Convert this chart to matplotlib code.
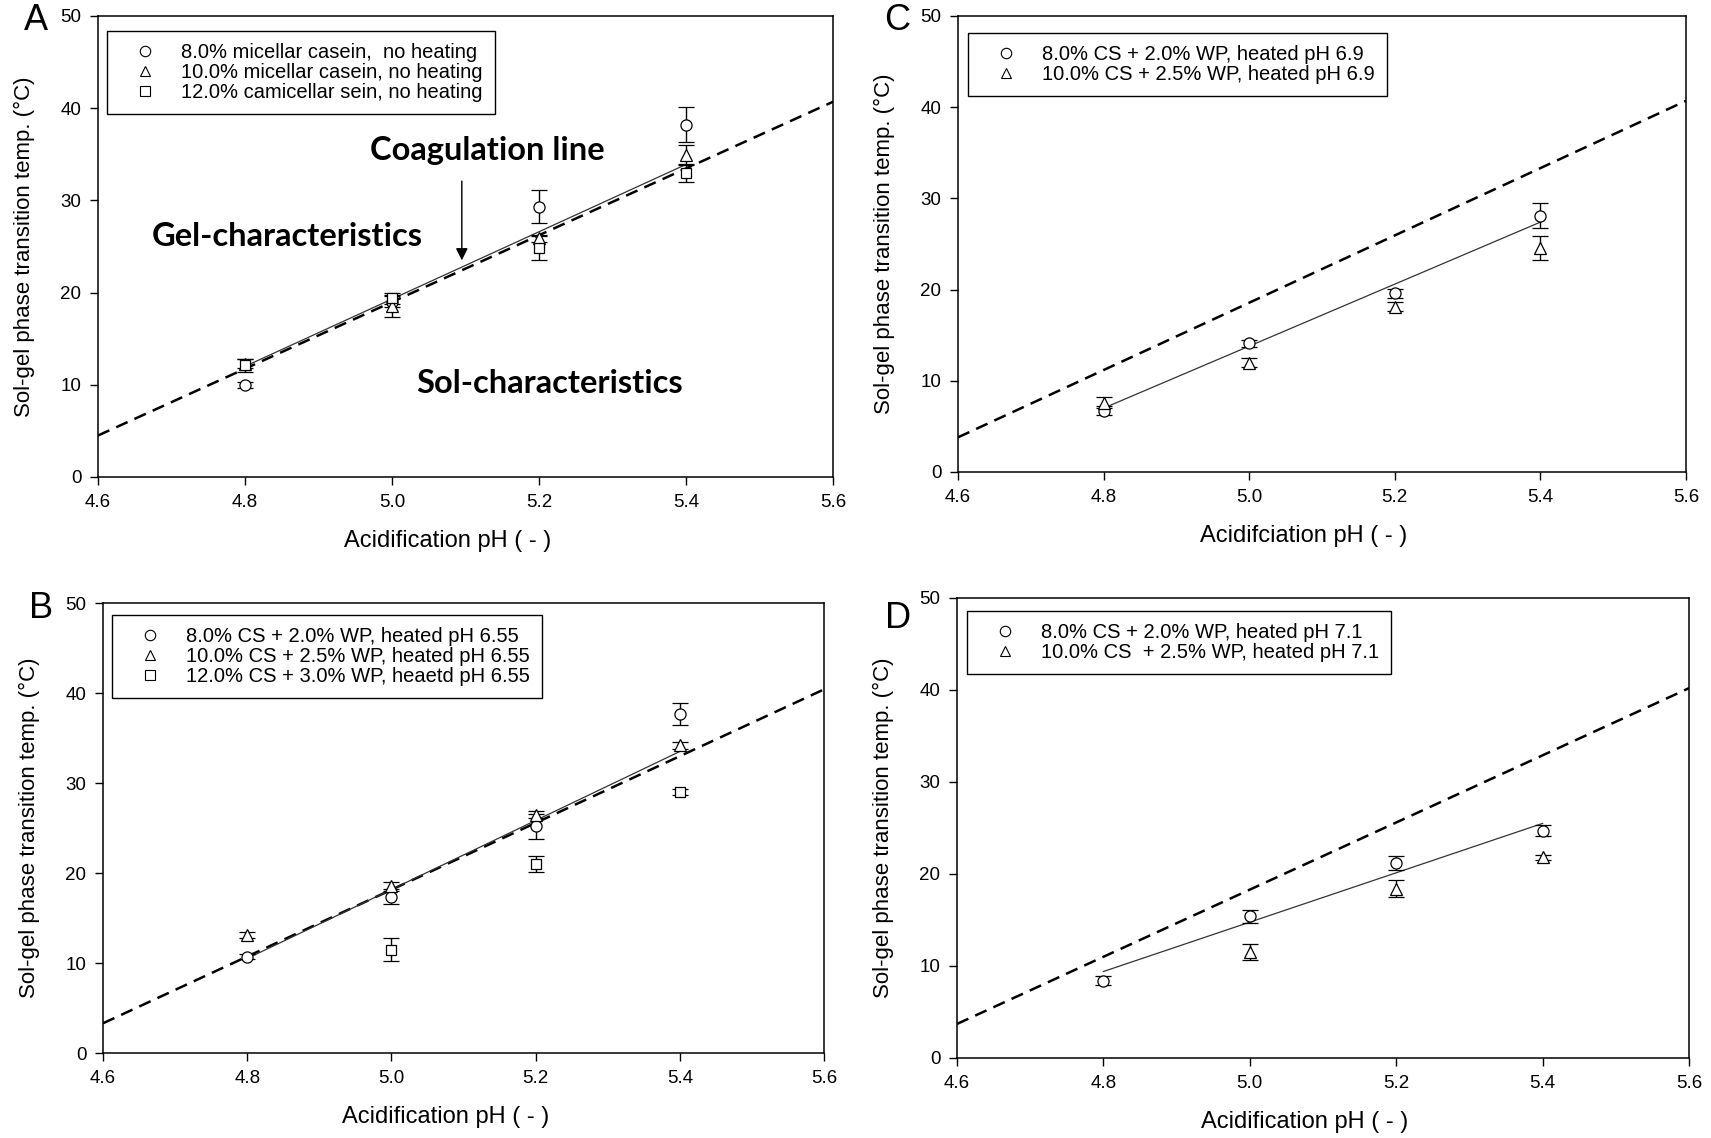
import numpy as np
import matplotlib
matplotlib.use("Agg")
import matplotlib.pyplot as plt
from matplotlib.lines import Line2D

plt.rcParams['font.family'] = ['Liberation Sans', 'DejaVu Sans']

# acidification pH of the measured points
ph = [4.8, 5.0, 5.2, 5.4]

# panel A: micellar casein, no heating
a_labels = ["8.0% micellar casein,  no heating",
            "10.0% micellar casein, no heating",
            "12.0% camicellar sein, no heating"]
a_circ = [10.0, 19.0, 29.3, 38.2]
a_circ_err = [0.3, 0.6, 1.8, 1.9]
a_tri = [12.3, 18.5, 25.9, 34.9]
a_tri_err = [0.5, 1.2, 0.4, 1.1]
a_sq = [12.1, 19.4, 24.8, 33.0]
a_sq_err = [0.7, 0.6, 1.3, 1.0]
a_fit = [12.0, 33.9]
a_coag = [4.5, 40.7]

# panel B: heated pH 6.55
b_labels = ["8.0% CS + 2.0% WP, heated pH 6.55",
            "10.0% CS + 2.5% WP, heated pH 6.55",
            "12.0% CS + 3.0% WP, heaetd pH 6.55"]
b_circ = [10.7, 17.3, 25.2, 37.7]
b_circ_err = [0.3, 0.7, 1.4, 1.2]
b_tri = [13.1, 18.6, 26.5, 34.2]
b_tri_err = [0.3, 0.4, 0.4, 0.4]
b_sq = [np.nan, 11.5, 21.0, 29.0]
b_sq_err = [np.nan, 1.25, 0.9, 0.3]
b_fit = [10.5, 33.5]
b_coag = [3.3, 40.4]

# panel C: heated pH 6.9
c_labels = ["8.0% CS + 2.0% WP, heated pH 6.9",
            "10.0% CS + 2.5% WP, heated pH 6.9"]
c_circ = [6.7, 14.1, 19.6, 28.1]
c_circ_err = [0.5, 0.4, 0.5, 1.4]
c_tri = [7.6, 12.0, 18.1, 24.6]
c_tri_err = [0.6, 0.5, 0.5, 1.3]
c_fit = [7.0, 27.4]
c_coag = [3.8, 40.7]

# panel D: heated pH 7.1
d_labels = ["8.0% CS + 2.0% WP, heated pH 7.1",
            "10.0% CS  + 2.5% WP, heated pH 7.1"]
d_circ = [8.4, 15.4, 21.2, 24.7]
d_circ_err = [0.5, 0.7, 0.8, 0.6]
d_tri = [np.nan, 11.5, 18.4, 21.8]
d_tri_err = [np.nan, 0.9, 0.9, 0.3]
d_fit = [9.4, 25.5]
d_coag = [3.7, 40.2]

fit_ph = [4.8, 5.4]
coag_ph = [4.6, 5.6]

W, H = 1711, 1138
fig = plt.figure(figsize=(W / 100, H / 100), dpi=100)


def make_axes(left, right, top, bottom):
    """ Add axes from a pixel box """
    return fig.add_axes([left / W, 1 - bottom / H, (right - left) / W, (bottom - top) / H])


def draw_panel(ax, series, labels, fit, coag, xlab, legend_box):
    """ Draw coagulation line, fit line, points with error bars and legend """
    ax.plot(coag_ph, coag, color='black', lw=1.8, ls=(0, (5, 3)), zorder=2)
    ax.plot(fit_ph, fit, color='#333333', lw=0.9, zorder=2)
    handles = []
    for (vals, errs, mk, ms), lab in zip(series, labels):
        ax.errorbar(ph, vals, yerr=errs, fmt=mk, ms=ms, mfc='white', mec='black',
                    mew=0.9, ecolor='black', elinewidth=1.0, capsize=6, capthick=1.0,
                    zorder=3)
        handles.append(Line2D([], [], marker=mk, ls='none', mfc='white', mec='black',
                              ms=ms - 0.5, mew=0.8, label=lab))
    ax.set_xlim(4.6, 5.6)
    ax.set_ylim(0, 50)
    ax.set_xticks([4.6, 4.8, 5.0, 5.2, 5.4, 5.6])
    ax.set_xticklabels(["4.6", "4.8", "5.0", "5.2", "5.4", "5.6"])
    ax.set_yticks([0, 10, 20, 30, 40, 50])
    ax.tick_params(direction='out', length=6, width=1, labelsize=13.5, pad=6)
    for sp in ax.spines.values():
        sp.set_linewidth(1.1)
    ax.set_ylabel("Sol-gel phase transition temp. (°C)", fontsize=16)
    ax.set_xlabel(xlab, fontsize=17)
    bb = ax.get_position()
    wpx, hpx = bb.width * W, bb.height * H
    ax.yaxis.set_label_coords(-74 / wpx, 0.5)
    ax.xaxis.set_label_coords(0.475, -64 / hpx)
    ax.xaxis.label.set_va('center')
    ax.yaxis.label.set_va('center')
    leg = ax.legend(handles=handles, loc='upper left',
                    bbox_to_anchor=(legend_box[0] / wpx, 1 - legend_box[1] / hpx),
                    borderaxespad=0, fontsize=14.5, handlelength=2.6, handletextpad=0.48,
                    labelspacing=0.05, borderpad=0.6, frameon=True, fancybox=False,
                    edgecolor='black', framealpha=1)
    leg.get_frame().set_linewidth(1.0)


axA = make_axes(98, 833, 16, 477)
draw_panel(axA, [(a_circ, a_circ_err, 'o', 8), (a_tri, a_tri_err, '^', 8),
                 (a_sq, a_sq_err, 's', 7.5)],
           a_labels, a_fit, a_coag, "Acidification pH ( - )", (9, 15))
for txt, tx, ty in [("Coagulation line", 5.13, 35.4),
                    ("Gel-characteristics", 4.857, 26.1),
                    ("Sol-characteristics", 5.214, 10.1)]:
    axA.text(tx, ty, txt, fontsize=23.5, fontweight='bold',
             family=['Lato', 'DejaVu Sans'], ha='center', va='center')
axA.annotate("", xy=(5.095, 23.2), xytext=(5.095, 32.4),
             arrowprops=dict(arrowstyle='-|>', color='black', lw=1.0,
                             mutation_scale=18))

axC = make_axes(958, 1686, 16, 472)
draw_panel(axC, [(c_circ, c_circ_err, 'o', 8), (c_tri, c_tri_err, '^', 8)],
           c_labels, c_fit, c_coag, "Acidifciation pH ( - )", (10, 17))

axB = make_axes(103, 824, 603, 1053)
draw_panel(axB, [(b_circ, b_circ_err, 'o', 8), (b_tri, b_tri_err, '^', 8),
                 (b_sq, b_sq_err, 's', 7.5)],
           b_labels, b_fit, b_coag, "Acidification pH ( - )", (9, 12))

axD = make_axes(957, 1689, 598, 1058)
draw_panel(axD, [(d_circ, d_circ_err, 'o', 8), (d_tri, d_tri_err, '^', 8)],
           d_labels, d_fit, d_coag, "Acidification pH ( - )", (10, 13))

# panel letters
for letter, px, py in [("A", 36, 20), ("C", 897, 20), ("B", 41, 609), ("D", 898, 618)]:
    fig.text(px / W, 1 - py / H, letter, fontsize=26, ha='center', va='center')

fig.savefig("out.png", dpi=100)
